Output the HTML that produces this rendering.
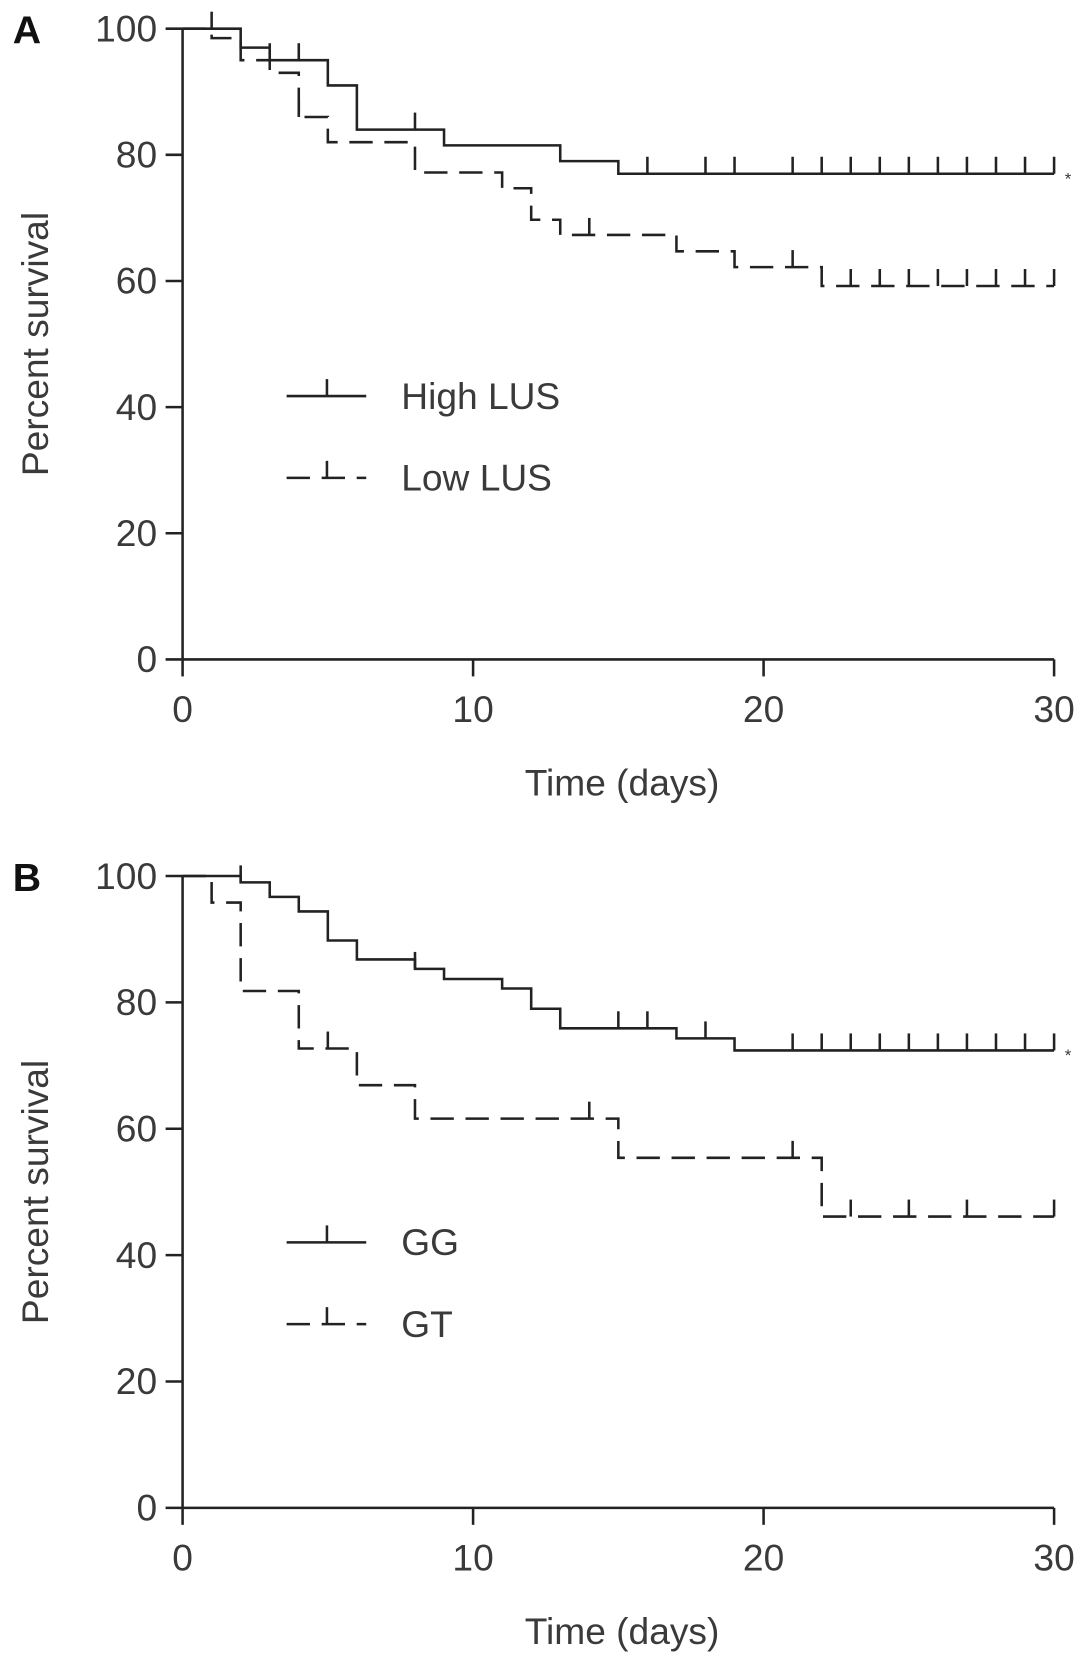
<!DOCTYPE html>
<html><head><meta charset="utf-8"><style>
html,body{margin:0;padding:0;background:#fff;}
svg{display:block;}
text{font-family:"Liberation Sans",sans-serif;fill:#3a3a3a;}
</style></head><body>
<svg id="c" width="1087" height="1665" viewBox="0 0 1024 1568" preserveAspectRatio="none" xmlns="http://www.w3.org/2000/svg"></svg>
<script>
// Panel A data
const aHighTimes=[0,2,3,5,6,9,13,15,30];
const aHighVals=[100,97,95,91,84,81.5,79,77,77];
const aHighCens=[1,3,4,8,16,18,19,21,22,23,24,25,26,27,28,29,30];
const aLowTimes=[0,1,2,3,4,5,8,11,12,13,17,19,22,30];
const aLowVals=[100,98.5,95,93,86,82,77.2,74.7,69.7,67.3,64.7,62.2,59.2,59.2];
const aLowCens=[4,14,21,23,24,25,26,27,28,29,30];
// Panel B data
const bGGTimes=[0,2,3,4,5,6,8,9,11,12,13,17,19,30];
const bGGVals=[100,99,96.7,94.4,89.8,86.8,85.3,83.7,82.2,79,75.9,74.3,72.4,72.4];
const bGGCens=[2,8,15,16,18,21,22,23,24,25,26,27,28,29,30];
const bGTTimes=[0,1,2,4,6,8,15,22,30];
const bGTVals=[100,95.8,81.8,72.7,66.9,61.6,55.4,46.1,46.1];
const bGTCens=[5,14,21,23,25,27,30];
const xTicks=[0,10,20,30];
const yTicks=[0,20,40,60,80,100];

const NS='http://www.w3.org/2000/svg';
const svg=document.getElementById('c');
function mk(tag,attrs,parent){const e=document.createElementNS(NS,tag);for(const k in attrs)e.setAttribute(k,attrs[k]);(parent||svg).appendChild(e);return e;}
const DASH='22 11';
const FS=35;
function panel(cfg){
  const g=mk('g',{});
  
  
  const x0=172,x1=993,yTop=cfg.yTop,yBot=cfg.yBot;
  const sx=t=>x0+(x1-x0)*t/30;
  const sy=v=>yBot-(yBot-yTop)*v/100;
  const st={stroke:'#222','stroke-width':2.4,fill:'none'};
  const ya=mk('line',Object.assign({x1:x0,y1:yTop,x2:x0,y2:yBot},st),g);
  
  
  const xa=mk('line',Object.assign({x1:x0,y1:yBot,x2:x1,y2:yBot},st),g);
  
  
  yTicks.forEach(v=>{
    mk('line',Object.assign({x1:x0-16,y1:sy(v),x2:x0,y2:sy(v)},st),g);
    const t=mk('text',{x:x0-24,y:sy(v)+12,'text-anchor':'end','font-size':FS},g);
    t.textContent=v;
    
    
  });
  xTicks.forEach(v=>{
    mk('line',Object.assign({x1:sx(v),y1:yBot,x2:sx(v),y2:yBot+16},st),g);
    const t=mk('text',{x:sx(v),y:yBot+59,'text-anchor':'middle','font-size':FS},g);
    t.textContent=v;
    
    
  });
  const yt=mk('text',{x:0,y:0,'text-anchor':'middle','font-size':FS,transform:`translate(45,${(yTop+yBot)/2}) rotate(-90)`},g);
  yt.textContent='Percent survival';
  
  
  const xt=mk('text',{x:586,y:yBot+128,'text-anchor':'middle','font-size':FS},g);
  xt.textContent='Time (days)';
  
  
  const lt=mk('text',{x:12,y:yTop+14,'font-size':37,'font-weight':'bold'},g);
  lt.textContent=cfg.letter;
  lt.style.fill='#111';
  
  
  cfg.series.forEach(s=>{
    let d=`M${sx(s.times[0])},${sy(s.vals[0])}`;
    for(let i=1;i<s.times.length;i++){d+=` H${sx(s.times[i])} V${sy(s.vals[i])}`;}
    const p=mk('path',Object.assign({d:d},st),g);
    if(s.dash)p.setAttribute('stroke-dasharray',DASH);
    
    
    s.cens.forEach(c=>{
      let v=s.vals[0];
      for(let i=0;i<s.times.length;i++){if(s.times[i]<=c)v=s.vals[i];}
      const m=mk('line',Object.assign({x1:sx(c),y1:sy(v),x2:sx(c),y2:sy(v)-16},st),g);
      
      
    });
  });
  const ast=mk('text',{x:1003,y:sy(cfg.series[0].vals[cfg.series[0].vals.length-1])+10,'font-size':16},g);
  ast.textContent='*';
  
  
  cfg.series.forEach((s,i)=>{
    const ly=cfg.legY+i*77;
    const l=mk('line',Object.assign({x1:270,y1:ly,x2:345,y2:ly},st),g);
    if(s.dash)l.setAttribute('stroke-dasharray',DASH);
    
    
    mk('line',Object.assign({x1:308,y1:ly,x2:308,y2:ly-16},st),g);
    const t=mk('text',{x:378,y:ly+12,'font-size':FS},g);
    t.textContent=s.label;
    
    
  });
}
panel({name:'panel-a',letter:'A',yTop:27,yBot:621,legY:373,series:[
  {name:'high-lus',label:'High LUS',times:aHighTimes,vals:aHighVals,cens:aHighCens,dash:false},
  {name:'low-lus',label:'Low LUS',times:aLowTimes,vals:aLowVals,cens:aLowCens,dash:true}]});
panel({name:'panel-b',letter:'B',yTop:825,yBot:1420,legY:1170,series:[
  {name:'gg',label:'GG',times:bGGTimes,vals:bGGVals,cens:bGGCens,dash:false},
  {name:'gt',label:'GT',times:bGTTimes,vals:bGTVals,cens:bGTCens,dash:true}]});
</script>
</body></html>
